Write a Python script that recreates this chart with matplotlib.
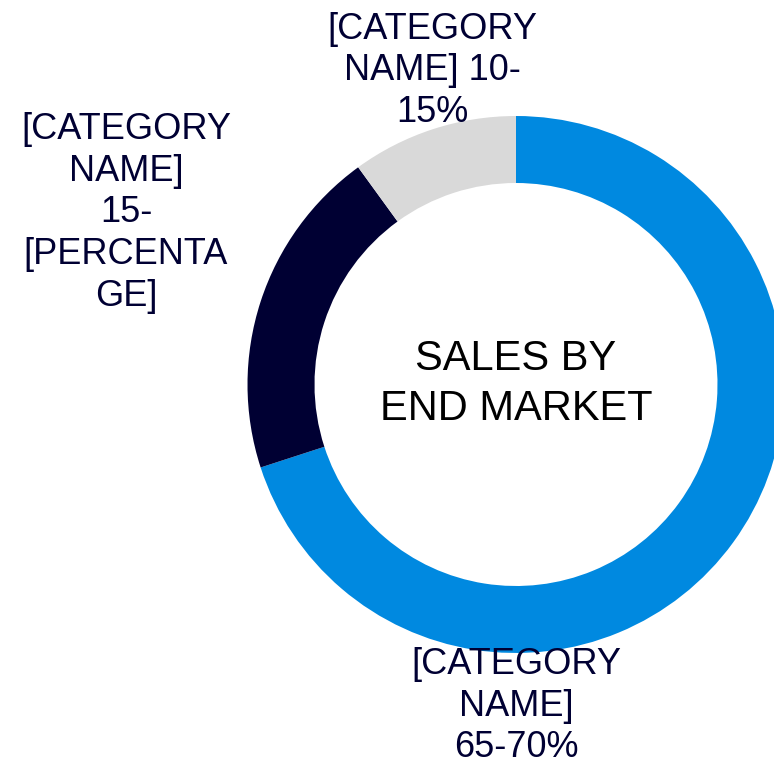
import matplotlib
matplotlib.use('Agg')
import matplotlib.pyplot as plt

# Dados do gráfico
categories = ['[CATEGORY\nNAME]\n65-70%', '[CATEGORY\nNAME]\n15-\n[PERCENTA\nGE]', '[CATEGORY\nNAME] 10-\n15%']
values = [70, 20, 10]
colors = ['#0089E0', '#000033', '#D9D9D9']
center_title = 'SALES BY\nEND MARKET'

plt.rcParams['font.family'] = ['Liberation Sans', 'DejaVu Sans']

fig = plt.figure(figsize=(7.74, 7.68), dpi=100)
ax = fig.add_axes([0, 0, 1, 1])

# Rosca (coordenadas em pixels)
ax.pie(values, colors=colors, startangle=90, counterclock=False,
       center=(516, 383.5), radius=268.5,
       wedgeprops=dict(width=67, linewidth=0), frame=True)
ax.set_xlim(0, 774)
ax.set_ylim(0, 768)
ax.set_aspect('auto')
ax.axis('off')

# Rótulos das categorias
label_pos = [(516, 62), (126, 555), (432, 697)]
for text, (x, y) in zip(categories, label_pos):
    ax.text(x, y, text, ha='center', va='center', fontsize=26,
            color='#000033', linespacing=1.25, multialignment='center')

ax.text(516, 384, center_title, ha='center', va='center', fontsize=30,
        color='black', linespacing=1.32, multialignment='center')

plt.savefig('out.png', dpi=100)
plt.close()
